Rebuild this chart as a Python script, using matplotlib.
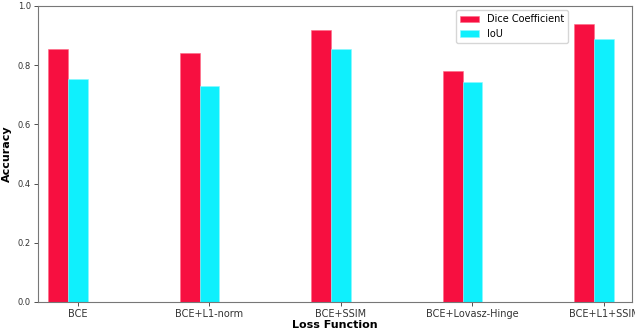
import matplotlib
matplotlib.use("Agg")
import matplotlib.pyplot as plt
import numpy as np

losses = ["BCE", "BCE+L1-norm", "BCE+SSIM", "BCE+Lovasz-Hinge", "BCE+L1+SSIM"]
dice = [0.854, 0.842, 0.918, 0.780, 0.938]
iou = [0.752, 0.731, 0.856, 0.742, 0.887]

x = np.arange(len(losses))
w = 0.15

fig = plt.figure(figsize=(6.35, 3.33), dpi=100)
ax = fig.add_axes([0.0598, 0.0931, 0.9354, 0.8889])

ax.bar(x - w, dice, width=w, color="#f70f40", edgecolor="#ff6a85", linewidth=0.4, label="Dice Coefficient")
ax.bar(x, iou, width=w, color="#0ff0fd", edgecolor="#8cf8ff", linewidth=0.4, label="IoU")

ax.set_xticks(x)
ax.set_xticklabels(losses, fontsize=7)
ax.tick_params(axis="y", labelsize=6)
ax.set_xlim(-0.304, 4.213)
ax.set_ylim(0, 1.0)
ax.set_yticks([0.0, 0.2, 0.4, 0.6, 0.8, 1.0])
ax.set_xlabel("Loss Function", fontsize=8, fontweight="bold", labelpad=1)
ax.set_ylabel("Accuracy", fontsize=8, fontweight="bold", labelpad=4)

for s in ax.spines.values():
    s.set_color("#777777")
ax.tick_params(colors="#333333", length=3, width=0.6, pad=2)

ax.legend(loc="upper right", bbox_to_anchor=(0.893, 0.985), borderaxespad=0, fontsize=7, framealpha=0.8)

fig.savefig("out.png", dpi=100)
